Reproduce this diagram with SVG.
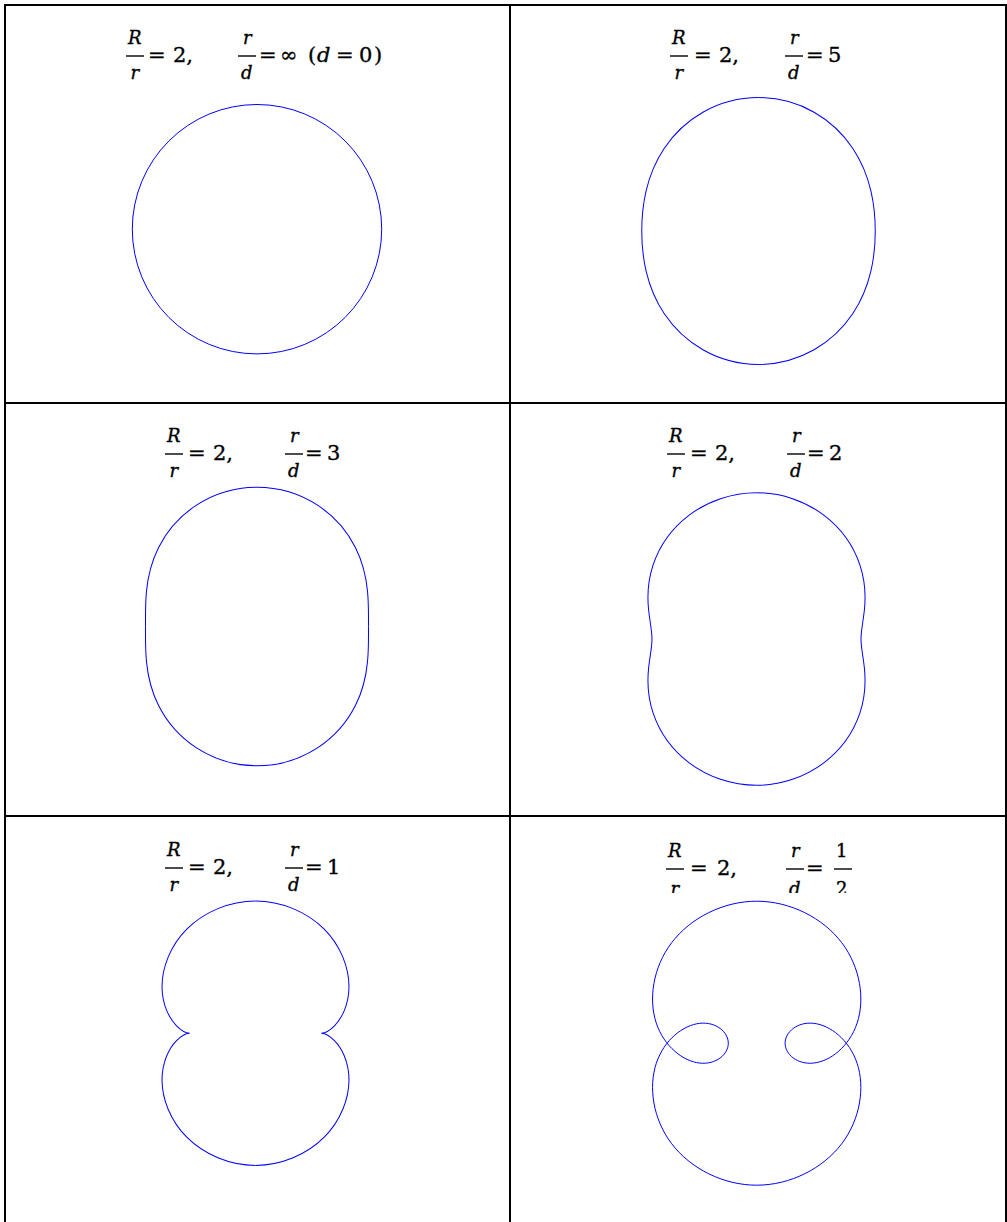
<svg xmlns="http://www.w3.org/2000/svg" width="1007" height="1222" viewBox="0 0 1007 1222">
<style>
.grid{fill:none;stroke:#000;stroke-width:2;stroke-linecap:square}
.curve{fill:none;stroke:#0000ff}
text{fill:#000;stroke:#000;stroke-width:0.35px;font-family:"DejaVu Serif",serif}
.mi{font-style:italic;font-size:18px}
.mI{font-style:italic;font-size:21px}
.mn{font-size:21px}
.fn{font-size:18px}
.bar{stroke:#000;stroke-width:1.4}
</style>
<defs>
<clipPath id="clipR3C2"><rect x="511" y="817" width="494" height="76"/></clipPath>
</defs>
<rect width="1007" height="1222" fill="#fff"/>
<g id="grid" class="grid">
<path d="M5,1222 V5 H1006 V1222"/>
<path d="M510,5 V1222"/>
<path d="M5,403 H1006"/>
<path d="M5,816 H1006"/>
</g>

<g id="cell-1">
<g transform="translate(127,44)">
<text class="mi" x="1" y="0">R</text>
<line class="bar" x1="-1" y1="12" x2="17" y2="12"/>
<text class="mi" x="3.5" y="35">r</text>
<text class="mn" x="21" y="18">=</text>
<text class="mn" x="46" y="18">2,</text>
<text class="mi" x="116" y="0">r</text>
<line class="bar" x1="111" y1="12" x2="129" y2="12"/>
<text class="mi" x="114" y="35">d</text>
<text class="mn" x="132" y="18">=</text>
<text class="mn" x="153" y="18">∞</text>
<text class="mn" x="181" y="18">(</text>
<text class="mI" x="190" y="18">d</text>
<text class="mn" x="209" y="18">=</text>
<text class="mn" x="232" y="18">0</text>
<text class="mn" x="247" y="18">)</text>
</g>
<circle class="curve" cx="257" cy="229.2" r="124.7"/>
</g>

<g id="cell-2">
<g transform="translate(671,44)">
<text class="mi" x="1" y="0">R</text>
<line class="bar" x1="-1" y1="12" x2="17" y2="12"/>
<text class="mi" x="3.5" y="35">r</text>
<text class="mn" x="23" y="18">=</text>
<text class="mn" x="48" y="18">2,</text>
<text class="mi" x="119" y="0">r</text>
<line class="bar" x1="114" y1="12" x2="132" y2="12"/>
<text class="mi" x="117" y="35">d</text>
<text class="mn" x="135" y="18">=</text>
<text class="mn" x="157" y="18">5</text>
</g>
<g class="curve" transform="translate(758.5,231) scale(41.7)" stroke-width="0.024">
<path id="q02" d="M2.8,0 C2.8,0.3142 2.7728,0.6305 2.6951,0.9633 C2.6174,1.2960 2.4849,1.6467 2.2627,1.9799 C2.0406,2.3131 1.7257,2.6253 1.3328,2.8482 C0.9400,3.0710 0.4712,3.2 0,3.2"/>
<use href="#q02" transform="scale(-1,1)"/>
<use href="#q02" transform="scale(1,-1)"/>
<use href="#q02" transform="scale(-1,-1)"/>
</g>
</g>

<g id="cell-3">
<g transform="translate(166,442)">
<text class="mi" x="1" y="0">R</text>
<line class="bar" x1="-1" y1="12" x2="17" y2="12"/>
<text class="mi" x="3.5" y="35">r</text>
<text class="mn" x="22" y="18">=</text>
<text class="mn" x="47" y="18">2,</text>
<text class="mi" x="124" y="0">r</text>
<line class="bar" x1="119" y1="12" x2="137" y2="12"/>
<text class="mi" x="122" y="35">d</text>
<text class="mn" x="139" y="18">=</text>
<text class="mn" x="161" y="18">3</text>
</g>
<g class="curve" transform="translate(257,626.5) scale(41.8)" stroke-width="0.024">
<path id="q03" d="M2.6667,0 C2.6667,0.2618 2.6734,0.5274 2.6441,0.8401 C2.6147,1.1528 2.5421,1.5154 2.3570,1.8856 C2.1719,2.2559 1.8689,2.6280 1.4560,2.8992 C1.0431,3.1704 0.5236,3.3333 0,3.3333"/>
<use href="#q03" transform="scale(-1,1)"/>
<use href="#q03" transform="scale(1,-1)"/>
<use href="#q03" transform="scale(-1,-1)"/>
</g>
</g>

<g id="cell-4">
<g transform="translate(668,442)">
<text class="mi" x="1" y="0">R</text>
<line class="bar" x1="-1" y1="12" x2="17" y2="12"/>
<text class="mi" x="3.5" y="35">r</text>
<text class="mn" x="22" y="18">=</text>
<text class="mn" x="47" y="18">2,</text>
<text class="mi" x="124" y="0">r</text>
<line class="bar" x1="119" y1="12" x2="137" y2="12"/>
<text class="mi" x="122" y="35">d</text>
<text class="mn" x="139" y="18">=</text>
<text class="mn" x="161" y="18">2</text>
</g>
<g class="curve" transform="translate(756.5,639) scale(41.8)" stroke-width="0.024">
<path id="q05" d="M2.5,0 C2.5,0.1964 2.5492,0.3984 2.5803,0.6861 C2.6114,0.9738 2.6137,1.3512 2.4749,1.7678 C2.3360,2.1843 2.0479,2.6313 1.6100,2.9630 C1.1720,3.2947 0.5890,3.5 0,3.5"/>
<use href="#q05" transform="scale(-1,1)"/>
<use href="#q05" transform="scale(1,-1)"/>
<use href="#q05" transform="scale(-1,-1)"/>
</g>
</g>

<g id="cell-5">
<g transform="translate(166,856)">
<text class="mi" x="1" y="0">R</text>
<line class="bar" x1="-1" y1="12" x2="17" y2="12"/>
<text class="mi" x="3.5" y="35">r</text>
<text class="mn" x="22" y="18">=</text>
<text class="mn" x="47" y="18">2,</text>
<text class="mi" x="124" y="0">r</text>
<line class="bar" x1="119" y1="12" x2="137" y2="12"/>
<text class="mi" x="122" y="35">d</text>
<text class="mn" x="139" y="18">=</text>
<text class="mn" x="161" y="18">1</text>
</g>
<g class="curve" transform="translate(255.5,1033.2) scale(33.05)" stroke-width="0.0303">
<path id="q1" d="M2,0 C2,0 2.1764,0.0116 2.3890,0.2242 C2.6015,0.4367 2.8284,0.8589 2.8284,1.4142 C2.8284,1.9696 2.5850,2.6412 2.0719,3.1543 C1.5588,3.6674 0.7854,4 0,4"/>
<use href="#q1" transform="scale(-1,1)"/>
<use href="#q1" transform="scale(1,-1)"/>
<use href="#q1" transform="scale(-1,-1)"/>
</g>
</g>

<g id="cell-6">
<g clip-path="url(#clipR3C2)">
<g transform="translate(667,857)">
<text class="mi" x="1" y="0">R</text>
<line class="bar" x1="-1" y1="12" x2="17" y2="12"/>
<text class="mi" x="3.5" y="37.5">r</text>
<text class="mn" x="23" y="18">=</text>
<text class="mn" x="50" y="18">2,</text>
<text class="mi" x="124" y="0">r</text>
<line class="bar" x1="119" y1="12" x2="137" y2="12"/>
<text class="mi" x="122" y="37.5">d</text>
<text class="mn" x="139" y="18">=</text>
<text class="fn" x="169" y="0">1</text>
<line class="bar" x1="167" y1="12" x2="185" y2="12"/>
<text class="fn" x="169" y="37.5">2</text>
</g>
</g>
<g class="curve" transform="translate(756.7,1043.2) scale(28.4)" stroke-width="0.0352">
<path id="q2" d="M1,0 C1,-0.3927 1.4309,-0.7620 2.0063,-0.6997 C2.5816,-0.6375 3.2579,-0.1259 3.5355,0.7071 C3.8132,1.5401 3.6592,2.6611 2.9958,3.5370 C2.3324,4.4129 1.1781,5 0,5"/>
<use href="#q2" transform="scale(-1,1)"/>
<use href="#q2" transform="scale(1,-1)"/>
<use href="#q2" transform="scale(-1,-1)"/>
</g>
</g>
</svg>
